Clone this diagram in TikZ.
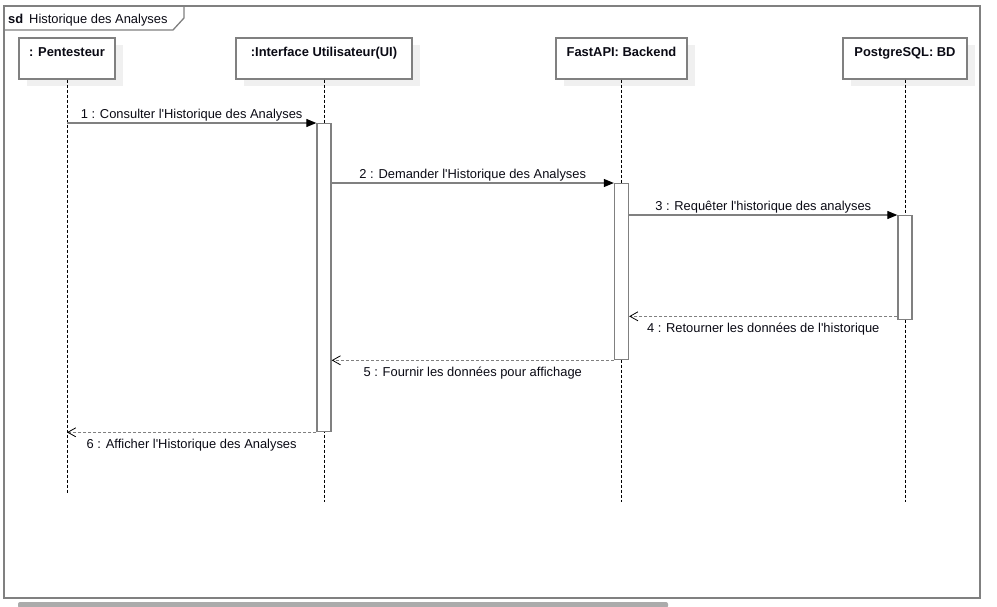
\documentclass[tikz,border=0pt]{standalone}
\usepackage{fontspec}
\setmainfont{Liberation Sans}
\newfontfamily\arialish{Liberation Sans}[Mapping=none]
\usetikzlibrary{arrows.meta,shadows}
\definecolor{linegray}{RGB}{128,128,128}
\definecolor{shadowgray}{RGB}{240,240,240}
\definecolor{txt}{RGB}{10,10,20}
\begin{document}
\begin{tikzpicture}[x=1pt,y=-1pt,
  frame/.style={draw=linegray, line width=1.3pt},
  head/.style={draw=linegray, line width=1.3pt, fill=white, minimum height=41pt, inner sep=0pt,
    drop shadow={shadow xshift=8pt, shadow yshift=-7pt, fill=shadowgray, opacity=1}},
  headtext/.style={font=\arialish\fontsize{12.9}{15}\selectfont\bfseries, text=txt, inner sep=0pt, anchor=base},
  act/.style={draw=linegray, line width=1.3pt, fill=white, minimum width=14pt, inner sep=0pt, anchor=north},
  lifeline/.style={draw=black, line width=0.8pt, dash pattern=on 3pt off 2pt},
  msg/.style={draw=linegray, line width=1.1pt, -{Triangle[length=10pt,width=8pt,color=black,fill=black]}},
  ret/.style={draw=linegray, line width=1.1pt, dash pattern=on 3pt off 2pt, -{Straight Barb[length=8pt,width=9pt,color=black,line width=0.8pt]}},
  lab/.style={font=\arialish\fontsize{12.9}{15}\selectfont, text=txt, inner sep=0pt, anchor=base},
]
\useasboundingbox (0,0) rectangle (997,606);

% frame
\draw[frame] (4,6) rectangle (980,598);
\draw[frame] (4,30) -- (173,30) -- (184,18) -- (184,6);
\node[lab, anchor=base west] (sd) at (8,23) {\bfseries sd};
\node[lab, anchor=base west] (title) at (29,23) {Historique des Analyses};

% scrollbar
\fill[black!33, rounded corners=2pt] (18,602) rectangle (668,608);

% heads
\node[head, minimum width=96pt]  (pent) at (67,58.5) {};
\node[head, minimum width=176pt] (ui)   at (324,58.5) {};
\node[head, minimum width=131pt] (api)  at (621.5,58.5) {};
\node[head, minimum width=124pt] (db)   at (905,58.5) {};
\node[headtext] (pentT) at ([yshift=-19pt]pent.north) {: Pentesteur};
\node[headtext] (uiT)   at ([yshift=-19pt]ui.north) {:Interface Utilisateur(UI)};
\node[headtext] (apiT)  at ([yshift=-19pt]api.north) {FastAPI: Backend};
\node[headtext] (dbT)   at ([yshift=-19pt]db.north) {PostgreSQL: BD};

% lifeline ends
\coordinate (pentEnd) at (67,493);
\coordinate (uiEnd)   at (324,502);
\coordinate (apiEnd)  at (621.5,502);
\coordinate (dbEnd)   at (905,502);
\draw[lifeline] (pent.south) -- (pentEnd);
\draw[lifeline] (ui.south) -- (uiEnd);
\draw[lifeline] (api.south) -- (apiEnd);
\draw[lifeline] (db.south) -- (dbEnd);

% activations
\node[act, minimum height=308pt] (actUI)  at (324,123) {};
\node[act, minimum height=176pt] (actAPI) at (621.5,183) {};
\node[act, minimum height=104pt] (actDB)  at (905,215) {};

% messages
\draw[msg] (pent |- actUI.north) -- (actUI.north west)
  node[lab, midway, yshift=5pt] (m1) {1 : Consulter l'Historique des Analyses};
\draw[msg] (actUI.east |- actAPI.north) -- (actAPI.north west)
  node[lab, midway, yshift=5pt] (m2) {2 : Demander l'Historique des Analyses};
\draw[msg] (actAPI.east |- actDB.north) -- (actDB.north west)
  node[lab, midway, yshift=5pt] (m3) {3 : Requêter l'historique des analyses};
\draw[ret] ([yshift=4pt]actDB.south west) -- ([yshift=4pt]actAPI.east |- actDB.south west)
  node[lab, midway, yshift=-16pt] (m4) {4 : Retourner les données de l'historique};
\draw[ret] (actAPI.south west) -- (actUI.east |- actAPI.south west)
  node[lab, midway, yshift=-16pt] (m5) {5 : Fournir les données pour affichage};
\draw[ret] (actUI.south west) -- (pent |- actUI.south west)
  node[lab, midway, yshift=-16pt] (m6) {6 : Afficher l'Historique des Analyses};
\end{tikzpicture}
\end{document}
